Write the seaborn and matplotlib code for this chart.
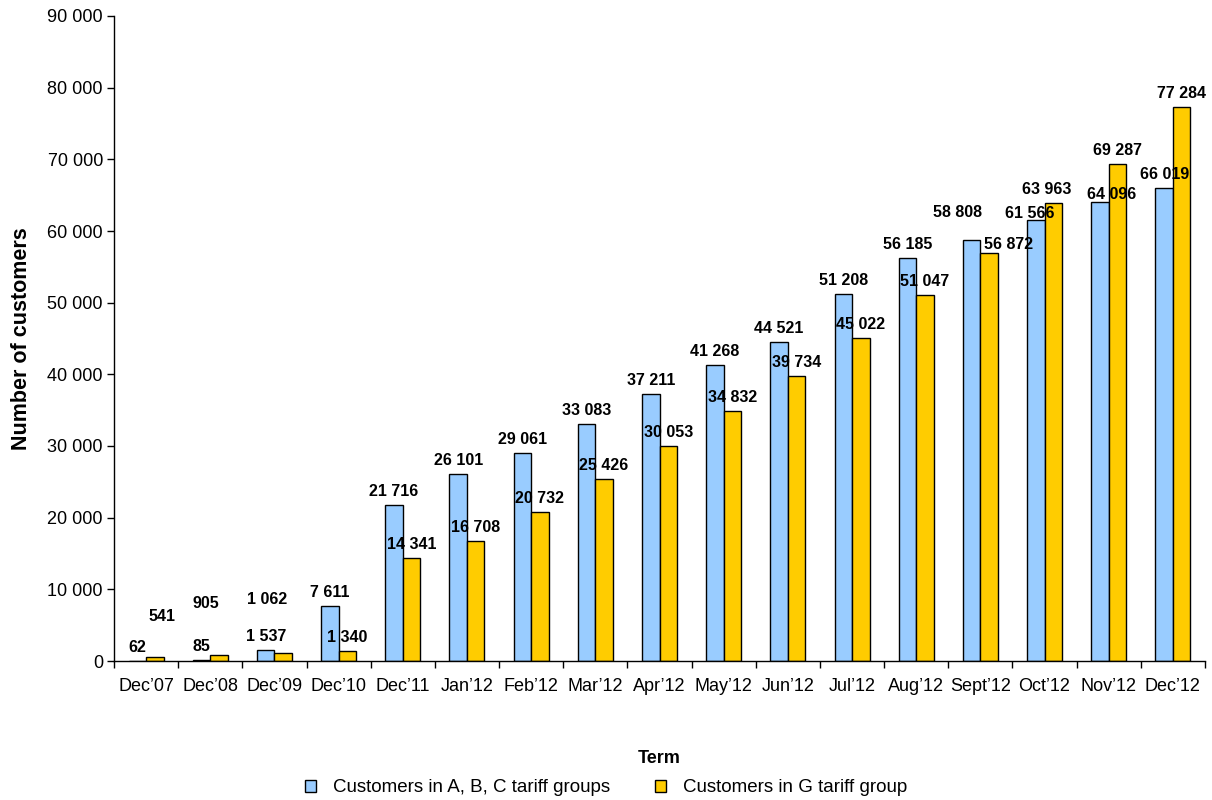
import pandas as pd
import matplotlib
matplotlib.use("Agg")
import matplotlib.pyplot as plt
import seaborn as sns
from matplotlib.ticker import FuncFormatter, FixedLocator

# data
terms = ["Dec’07", "Dec’08", "Dec’09", "Dec’10", "Dec’11", "Jan’12", "Feb’12",
         "Mar’12", "Apr’12", "May’12", "Jun’12", "Jul’12", "Aug’12", "Sept’12",
         "Oct’12", "Nov’12", "Dec’12"]
abc_customers = [62, 85, 1537, 7611, 21716, 26101, 29061, 33083, 37211, 41268,
                 44521, 51208, 56185, 58808, 61566, 64096, 66019]
g_customers = [541, 905, 1062, 1340, 14341, 16708, 20732, 25426, 30053, 34832,
               39734, 45022, 51047, 56872, 63963, 69287, 77284]
series_names = ["Customers in A, B, C tariff groups", "Customers in G tariff group"]

# label nudges (pixels) where the original labels were moved by hand
abc_dx = [0] * 13 + [-14, -6, 12, 0]
abc_dy = [15] * 13 + [29, 8, 9, 15]
g_dx = [7, -13, -16] + [0] * 10 + [19, -7, 0, 0]
g_dy = [42, 53, 55] + [15] * 10 + [10, 15, 15, 15]

df = pd.DataFrame({
    "term": terms * 2,
    "customers": abc_customers + g_customers,
    "group": [series_names[0]] * len(terms) + [series_names[1]] * len(terms),
})


def spaced(v, pos=None):
    return f"{int(round(v)):,}".replace(",", " ")


sns.set_style("ticks")
plt.rcParams["font.family"] = ["Liberation Sans", "DejaVu Sans"]
plt.rcParams["text.color"] = "black"
plt.rcParams["axes.labelcolor"] = "black"
plt.rcParams["xtick.color"] = "black"
plt.rcParams["ytick.color"] = "black"

fig = plt.figure(figsize=(12.12, 8), dpi=100)
ax = fig.add_axes([114 / 1212, 139 / 800, 1091 / 1212, 645 / 800])

sns.barplot(data=df, x="term", y="customers", hue="group", order=terms,
            hue_order=series_names, palette=["#99CCFF", "#FFCC00"],
            width=0.545, gap=0, edgecolor="black", linewidth=1.0,
            saturation=1, ax=ax, legend=False)

# data labels
for cont, vals, dxs, dys in [(ax.containers[0], abc_customers, abc_dx, abc_dy),
                             (ax.containers[1], g_customers, g_dx, g_dy)]:
    for bar, v, dx, dy in zip(cont, vals, dxs, dys):
        ax.annotate(spaced(v), (bar.get_x() + bar.get_width() / 2, bar.get_height()),
                    xytext=(dx, dy - 6), textcoords="offset pixels",
                    ha="center", va="baseline", fontsize=11.5, fontweight="bold",
                    color="black")

ax.set_xlim(-0.5, len(terms) - 0.5)
ax.set_ylim(0, 90000)
ax.yaxis.set_major_locator(FixedLocator(range(0, 90001, 10000)))
ax.yaxis.set_major_formatter(FuncFormatter(spaced))
ax.xaxis.set_minor_locator(FixedLocator([i - 0.5 for i in range(len(terms) + 1)]))
ax.tick_params(axis="x", which="major", length=0, pad=12, labelsize=13)
ax.tick_params(axis="x", which="minor", length=5, width=1, color="black")
ax.tick_params(axis="y", length=5, width=1, color="black", pad=3, labelsize=13)

sns.despine(ax=ax)
for s in ["left", "bottom"]:
    ax.spines[s].set_color("black")
    ax.spines[s].set_linewidth(1.0)

ax.set_xlabel("Term", fontsize=13, fontweight="bold")
ax.set_ylabel("Number of customers", fontsize=15.5, fontweight="bold")
ax.xaxis.set_label_coords(0.5, -0.138)
ax.yaxis.set_label_coords(-0.075, 0.5)

fig.legend(ax.containers, series_names, loc="center", ncol=2,
           bbox_to_anchor=(606 / 1212, 1 - 788 / 800), frameon=False,
           fontsize=13.5, handlelength=0.6, handleheight=0.6,
           handletextpad=0.9, columnspacing=2.4)

fig.savefig("out.png", dpi=100)
